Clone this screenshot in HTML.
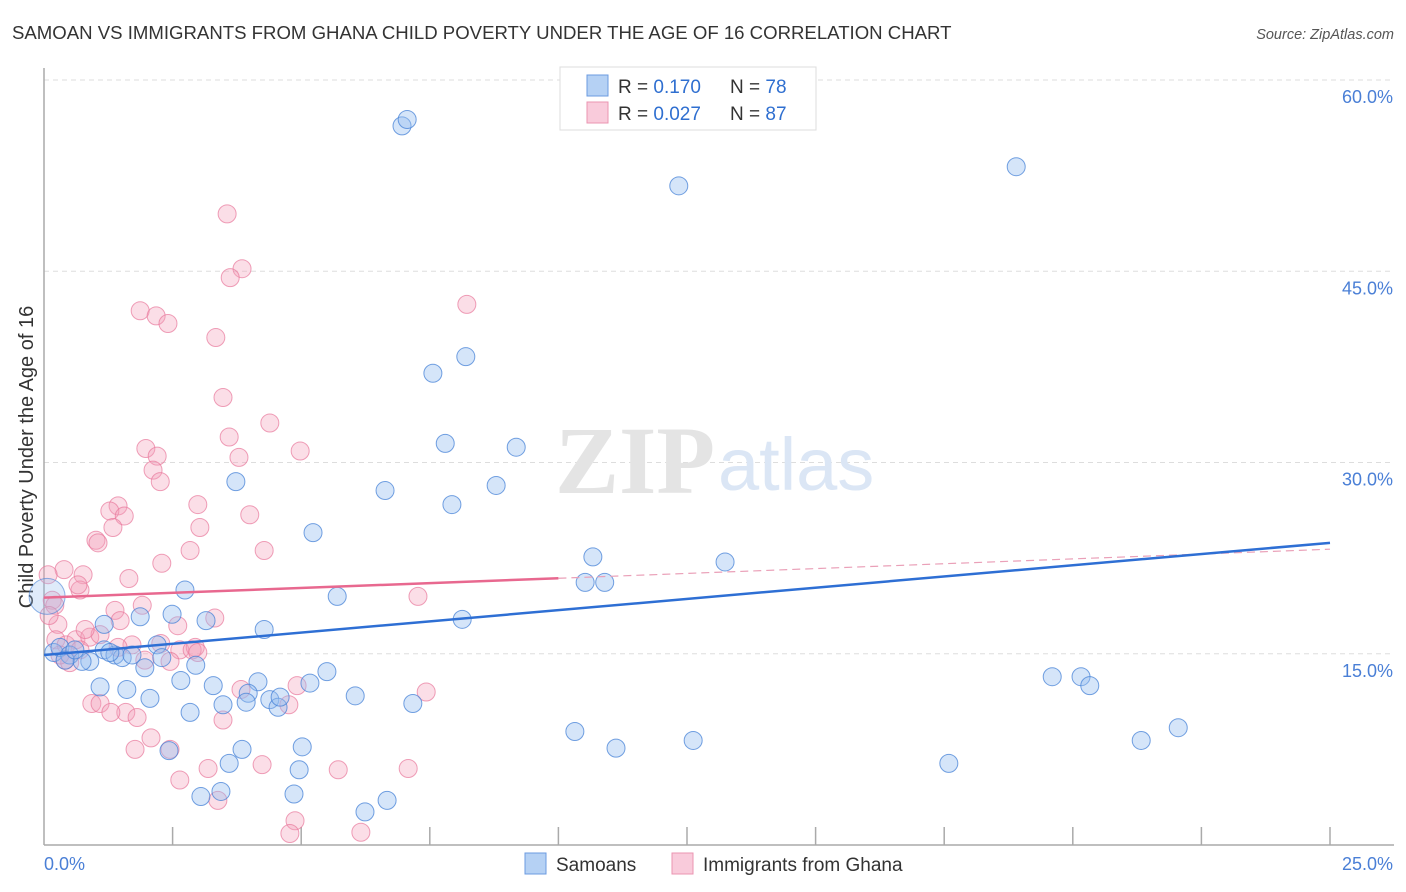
<!DOCTYPE html>
<html><head><meta charset="utf-8"><style>
body{margin:0;background:#fff;font-family:"Liberation Sans",sans-serif}
#c{position:relative;width:1406px;height:892px;overflow:hidden}
</style></head><body>
<div id="c">
<svg id="s" width="1406" height="892"></svg>
</div>
<script>
const blueX=[6.96,7.06,12.34,18.9,8.2,7.56,7.8,9.18,3.73,6.63,8.79,7.93,5.23,10.67,13.24,10.52,10.9,5.7,2.74,8.13,1.87,1.17,2.49,3.15,4.28,2.2,0.19,0.31,0.5,0.89,1.17,1.38,1.52,1.71,1.96,2.29,2.95,2.66,1.09,1.61,2.06,3.29,4.16,3.48,2.84,3.97,3.93,4.39,4.55,4.59,5.17,5.5,6.05,7.17,10.32,11.12,12.62,19.6,20.16,20.33,21.33,22.05,17.59,5.02,3.85,2.43,3.6,4.96,4.86,3.05,3.44,6.24,6.67,0.74,0.41,0.6,1.28];
const blueY=[56.4,56.9,51.7,53.2,38.3,37.0,31.5,31.2,28.5,27.8,28.2,26.7,24.5,22.6,22.2,20.6,20.6,19.5,20.0,17.7,17.9,17.3,18.1,17.6,16.9,15.7,15.1,15.5,14.9,14.4,15.3,14.9,14.7,14.9,13.9,14.7,14.1,12.9,12.4,12.2,11.5,12.5,12.8,11.0,10.4,11.9,11.2,11.4,10.8,11.6,12.7,13.6,11.7,11.1,8.9,7.6,8.2,13.2,13.2,12.5,8.2,9.2,6.4,7.7,7.5,7.4,6.4,5.9,4.0,3.8,4.2,2.6,3.5,14.4,14.5,15.3,15.1];
const pinkX=[3.56,3.85,3.62,8.22,1.87,2.18,2.41,3.34,3.48,4.39,3.6,1.98,2.2,3.79,4.98,2.12,2.26,1.44,1.28,1.56,2.99,4.0,3.03,1.34,1.01,1.05,2.84,4.28,2.29,0.39,0.76,1.65,0.7,0.66,7.27,0.08,0.16,0.21,1.91,1.38,3.32,2.6,0.27,0.1,0.23,0.43,0.62,0.89,1.09,0.7,0.41,0.5,0.31,1.71,2.27,1.44,2.64,2.94,2.88,2.99,2.45,3.83,4.92,7.43,0.93,1.09,1.59,1.3,1.81,3.48,4.76,2.08,1.77,2.45,3.19,4.24,5.72,7.08,2.64,3.38,4.88,4.78,6.16,1.48,0.8,1.96];
const pinkY=[49.5,45.2,44.5,42.4,41.9,41.5,40.9,39.8,35.1,33.1,32.0,31.1,30.5,30.4,30.9,29.4,28.5,26.6,26.2,25.8,26.7,25.9,24.9,24.9,23.9,23.7,23.1,23.1,22.1,21.6,21.2,20.9,20.0,20.4,19.5,21.2,19.2,18.8,18.8,18.4,17.8,17.2,17.3,18.0,16.1,15.7,16.1,16.3,16.5,15.3,14.5,14.3,14.9,15.7,15.8,15.5,15.3,15.5,15.3,15.1,14.4,12.2,12.5,12.0,11.1,11.1,10.4,10.4,10.0,9.8,11.0,8.4,7.5,7.5,6.0,6.3,5.9,6.0,5.1,3.5,1.9,0.9,1.0,17.6,16.9,14.5];
const yTicks=[15,30,45,60];
const yTickLabels=["15.0%","30.0%","45.0%","60.0%"];
const blueTrend=[14.9,23.7];
const pinkTrend=[19.4,23.2];
const pinkSolidEnd=10;

const NS="http://www.w3.org/2000/svg";
const svg=document.getElementById('s');
const X=v=>44+v/25*1286;
const Y=v=>845-v/60*765;
function mk(t,a,p){const e=document.createElementNS(NS,t);for(const k in a)e.setAttribute(k,a[k]);(p||svg).appendChild(e);return e;}
function tx(x,y,s,o){const e=mk('text',Object.assign({x:x,y:y},o));e.textContent=s;return e;}

let e=tx(12,39,"SAMOAN VS IMMIGRANTS FROM GHANA CHILD POVERTY UNDER THE AGE OF 16 CORRELATION CHART",{'font-size':18.6,fill:'#333'});

e=tx(1394,39,"Source: ZipAtlas.com",{'font-size':14.5,fill:'#555','font-style':'italic','text-anchor':'end'});


yTicks.forEach((t,i)=>{
 let g=mk('line',{x1:44,x2:1394,y1:Y(t),y2:Y(t),stroke:'#ddd','stroke-dasharray':'5,4'});
 
 let l=tx(1393,Y(t)+23,yTickLabels[i],{'font-size':18,fill:'#4a7fd6','text-anchor':'end'});
 
});
e=mk('line',{x1:44,x2:44,y1:68,y2:845,stroke:'#aaa','stroke-width':1.5});

e=mk('line',{x1:44,x2:1394,y1:845,y2:845,stroke:'#aaa','stroke-width':1.5});

for(let i=1;i<=10;i++){let t=mk('line',{x1:X(i*2.5),x2:X(i*2.5),y1:827,y2:845,stroke:'#aaa','stroke-width':1.5});
 }
e=tx(44,870,"0.0%",{'font-size':18,fill:'#4a7fd6'});

e=tx(1393,870,"25.0%",{'font-size':18,fill:'#4a7fd6','text-anchor':'end'});

e=tx(0,0,"Child Poverty Under the Age of 16",{'font-size':20,fill:'#333','text-anchor':'middle',transform:'translate(33,457) rotate(-90)'});


e=tx(555,493,"ZIP",{'font-size':96,fill:'#e4e4e4','font-family':'Liberation Serif','font-weight':'bold'});

e=tx(718,490,"atlas",{'font-size':74,fill:'#dbe6f5'});


pinkX.forEach((v,i)=>{let c=mk('circle',{cx:X(v),cy:Y(pinkY[i]),r:9,fill:'rgba(244,160,185,0.35)',stroke:'rgba(232,120,155,0.7)','stroke-width':1});
 });
blueX.forEach((v,i)=>{let c=mk('circle',{cx:X(v),cy:Y(blueY[i]),r:9,fill:'rgba(150,190,240,0.4)',stroke:'rgba(70,130,215,0.75)','stroke-width':1});
 });
e=mk('circle',{cx:X(0.06),cy:Y(19.5),r:18,fill:'rgba(150,190,240,0.3)',stroke:'rgba(70,130,215,0.6)'});


const pAt=x=>pinkTrend[0]+(pinkTrend[1]-pinkTrend[0])*x/25;
e=mk('line',{x1:X(0),y1:Y(pinkTrend[0]),x2:X(pinkSolidEnd),y2:Y(pAt(pinkSolidEnd)),stroke:'#e8688f','stroke-width':2.5});

e=mk('line',{x1:X(pinkSolidEnd),y1:Y(pAt(pinkSolidEnd)),x2:X(25),y2:Y(pinkTrend[1]),stroke:'#eaa0b8','stroke-width':1.2,'stroke-dasharray':'8,5'});

e=mk('line',{x1:X(0),y1:Y(blueTrend[0]),x2:X(25),y2:Y(blueTrend[1]),stroke:'#2e6fd4','stroke-width':2.5});


e=mk('rect',{x:560,y:67,width:256,height:63,fill:'#fff',stroke:'#ddd'});

[[0,"0.170","78",'rgba(150,190,240,0.7)','#6b9be0'],[1,"0.027","87",'rgba(248,190,210,0.8)','#eb95b2']].forEach(r=>{
 const y=75+r[0]*27;
 let q=mk('rect',{x:587,y:y,width:21,height:21,fill:r[3],stroke:r[4]});
 
 let t=mk('text',{x:618,y:y+18,'font-size':19,fill:'#333'});
 
 t.innerHTML='R = <tspan fill="#2f6fd0">'+(r[0]?'':' ')+r[1]+'</tspan><tspan x="730">N = </tspan><tspan fill="#2f6fd0">'+r[2]+'</tspan>';
});

[[525,"Samoans",'rgba(150,190,240,0.7)','#6b9be0','legend-samoans'],[672,"Immigrants from Ghana",'rgba(248,190,210,0.8)','#eb95b2','legend-ghana']].forEach(r=>{
 let q=mk('rect',{x:r[0],y:853,width:21,height:21,fill:r[2],stroke:r[3]});
 
 let t=tx(r[0]+31,871,r[1],{'font-size':19,fill:'#333'});
 
});
</script>
</body></html>
